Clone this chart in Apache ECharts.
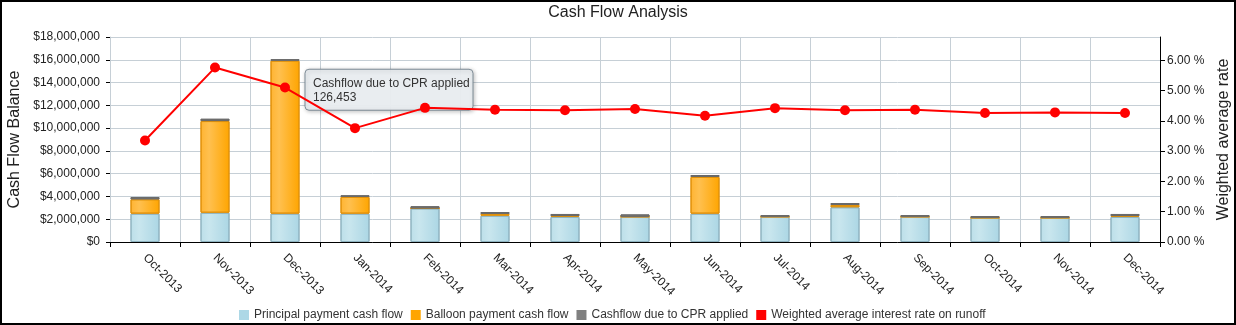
<!DOCTYPE html>
<html><head><meta charset="utf-8">
<script src="https://cdn.jsdelivr.net/npm/echarts@6/dist/echarts.min.js"></script>
<style>
html,body{margin:0;padding:0;background:#fff;}
#chart{position:absolute;left:0;top:0;width:1236px;height:325px;}
#frame{position:absolute;left:0;top:0;width:1236px;height:325px;box-sizing:border-box;border:2px solid #000;pointer-events:none;}
</style></head><body>
<div id="chart"></div><div id="frame"></div>
<script>
var months = ['Oct-2013','Nov-2013','Dec-2013','Jan-2014','Feb-2014','Mar-2014','Apr-2014','May-2014','Jun-2014','Jul-2014','Aug-2014','Sep-2014','Oct-2014','Nov-2014','Dec-2014'];
var principal = [2490000, 2570000, 2490000, 2490000, 2950000, 2310000, 2200000, 2220000, 2490000, 2220000, 3050000, 2220000, 2130000, 2130000, 2200000];
var balloon = [1260000, 8050000, 13430000, 1460000, 0, 150000, 80000, 0, 3220000, 0, 200000, 0, 0, 0, 80000];
var cpr = [190000, 200000, 126453, 150000, 190000, 170000, 180000, 200000, 170000, 150000, 170000, 150000, 150000, 150000, 180000];
var rate = [3.35, 5.76, 5.10, 3.76, 4.43, 4.37, 4.35, 4.39, 4.17, 4.42, 4.35, 4.37, 4.26, 4.28, 4.26];
var rateTicks = [0, 1, 2, 3, 4, 5, 6];
var seriesNames = ['Principal payment cash flow', 'Balloon payment cash flow', 'Cashflow due to CPR applied', 'Weighted average interest rate on runoff'];
var tipIndex = 2;

var FONT = '"Liberation Sans", Arial, sans-serif';
function grad(a, b, c) {
  return {type:'linear', x:0, y:0, x2:1, y2:0, colorStops:[{offset:0,color:a},{offset:0.3,color:b},{offset:1,color:c}]};
}
function commas(v){ return Math.round(v).toString().replace(/\B(?=(\d{3})+(?!\d))/g, ','); }
function money(v){ return '$' + commas(v); }

var chart = echarts.init(document.getElementById('chart'), null, {renderer:'canvas'});
var option = {
  animation:false,
  textStyle:{fontFamily:FONT},
  title:{text:'Cash Flow Analysis', left:'center', top:0, textStyle:{fontFamily:FONT, fontSize:16, fontWeight:'normal', color:'#222'}},
  grid:{left:110, right:76, top:37, bottom:83, containLabel:false, outerBoundsMode:'none'},
  legend:{
    top:304, left:234, icon:'rect', itemWidth:10, itemHeight:10, itemGap:8,
    textStyle:{fontFamily:FONT, fontSize:12, color:'#333'},
    data:[
      {name:seriesNames[0], itemStyle:{color:'#add8e6', borderWidth:0}},
      {name:seriesNames[1], itemStyle:{color:'#ffa500', borderWidth:0}},
      {name:seriesNames[2], itemStyle:{color:'#808080', borderWidth:0}},
      {name:seriesNames[3], itemStyle:{color:'#ff0000', borderWidth:0}}
    ]
  },
  xAxis:{
    type:'category', data:months, boundaryGap:true,
    axisLine:{lineStyle:{color:'#000', width:1}},
    axisTick:{show:true, length:5, lineStyle:{color:'#000'}},
    splitLine:{show:true, lineStyle:{color:'#c6cfd6', width:1}},
    axisLabel:{rotate:-45, margin:14, fontFamily:FONT, fontSize:12, color:'#222'}
  },
  yAxis:[
    {
      type:'value', min:0, max:18000000, interval:2000000,
      name:'Cash Flow Balance', nameLocation:'middle', nameRotate:90, nameGap:85,
      nameTextStyle:{fontFamily:FONT, fontSize:16, color:'#222'},
      axisLine:{show:true, lineStyle:{color:'#c6cfd6'}},
      axisTick:{show:true, length:4, lineStyle:{color:'#000'}},
      splitLine:{show:true, lineStyle:{color:'#c6cfd6', width:1}},
      axisLabel:{formatter:money, margin:10, fontFamily:FONT, fontSize:12, color:'#222'}
    },
    {
      type:'value', min:0, max:6.77, position:'right',
      name:'Weighted average rate', nameLocation:'middle', nameRotate:90, nameGap:55,
      nameTextStyle:{fontFamily:FONT, fontSize:16, color:'#222'},
      axisLine:{show:true, lineStyle:{color:'#000'}},
      axisTick:{show:true, length:5, lineStyle:{color:'#000'}, customValues:rateTicks},
      splitLine:{show:false},
      axisLabel:{customValues:rateTicks, formatter:function(v){return v.toFixed(2)+' %';}, margin:7, fontFamily:FONT, fontSize:12, color:'#222'}
    }
  ],
  series:[
    {name:seriesNames[0], type:'bar', stack:'cf', barWidth:29, data:principal,
     itemStyle:{color:grad('#bcdfe9','#c9e6ee','#abd6e4'), borderColor:'#8fb3c0', borderWidth:1}},
    {name:seriesNames[1], type:'bar', stack:'cf', barWidth:29, data:balloon,
     itemStyle:{color:grad('#ffb432','#ffc04f','#ffa500'), borderColor:'#e0900a', borderWidth:1}},
    {name:seriesNames[2], type:'bar', stack:'cf', barWidth:29, data:cpr,
     itemStyle:{color:grad('#8a8a8a','#959595','#7c7c7c'), borderColor:'#6a6a6a', borderWidth:1}},
    {name:seriesNames[3], type:'line', yAxisIndex:1, data:rate, symbol:'circle', symbolSize:10,
     lineStyle:{color:'#ff0000', width:2}, itemStyle:{color:'#ff0000'}, z:5}
  ]
};
chart.setOption(option);

// static tooltip annotation (as shown in reference) anchored at the CPR bar of Dec-2013
var barTop = principal[tipIndex] + balloon[tipIndex] + cpr[tipIndex];
var pt = chart.convertToPixel({xAxisIndex:0, yAxisIndex:0}, [tipIndex, barTop]);
var tipText = seriesNames[2] + '\n' + commas(cpr[tipIndex]);
chart.setOption({
  graphic:[{
    type:'group', x:pt[0] + 20, y:pt[1] + 10, z:100,
    children:[
      {type:'rect', shape:{x:0, y:0, width:168, height:41, r:4},
       style:{fill:'rgba(235,239,242,0.95)', stroke:'#7d8b95', lineWidth:1, shadowBlur:4, shadowOffsetX:1, shadowOffsetY:1, shadowColor:'rgba(0,0,0,0.25)'}},
      {type:'text', x:8, y:7, style:{text:tipText, font:'12px ' + FONT, fill:'#333', lineHeight:14}}
    ]
  }]
});
</script>
</body></html>
